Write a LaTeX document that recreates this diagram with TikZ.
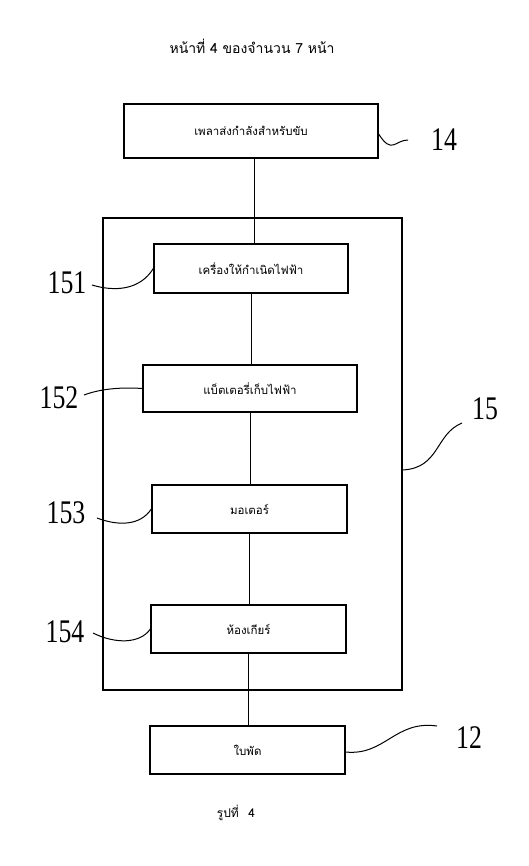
\documentclass[tikz,border=0pt]{standalone}
\usepackage{fontspec}
\newfontfamily\thai[Script=Thai]{Loma}
\newfontfamily\numfont{Liberation Serif}
\begin{document}
\begin{tikzpicture}[x=1pt,y=-1pt,
  box/.style={draw,line width=1.3pt,inner sep=0pt,font=\thai\fontsize{11.5}{13}\selectfont},
  conn/.style={line width=1pt},
  lead/.style={line width=1pt},
  num/.style={inner sep=0pt,font=\numfont\fontsize{33}{35}\selectfont,xscale=0.78}]
\useasboundingbox (0,0) rectangle (528,866);
\node[inner sep=0pt,font=\thai\fontsize{14}{16}\selectfont] (hdr) at (252,46) {หน้าที่ 4 ของจำนวน 7 หน้า};
\node[box,minimum width=299pt,minimum height=472pt] (b15) at (252.5,454) {};
\node[box,minimum width=254pt,minimum height=54pt] (b14) at (251,131) {เพลาส่งกำลังสำหรับขับ};
\node[box,fill=white,minimum width=194pt,minimum height=49pt] (b151) at (251,268.5) {เครื่องให้กำเนิดไฟฟ้า};
\node[box,fill=white,minimum width=214pt,minimum height=47pt] (b152) at (250,388.5) {แบ็ตเตอรี่เก็บไฟฟ้า};
\node[box,fill=white,minimum width=195pt,minimum height=48pt] (b153) at (249.5,509) {มอเตอร์};
\node[box,fill=white,minimum width=195pt,minimum height=48pt] (b154) at (248.5,629) {ห้องเกียร์};
\node[box,minimum width=195pt,minimum height=48pt] (b12) at (247.5,750) {ใบพัด};
\draw[conn] (b14.south) ++(3,0) coordinate (c1) -- (c1 |- b151.north);
\draw[conn] (b151.south) -- (b151.south |- b152.north);
\draw[conn] (b152.south) -- (b152.south |- b153.north);
\draw[conn] (b153.south) -- (b153.south |- b154.north);
\draw[conn] (b154.south) -- (b154.south |- b12.north);
% labels
\node[num] (l14) at (444,140) {14};
\node[num] (l151) at (67,283) {151};
\node[num] (l152) at (59,398) {152};
\node[num] (l153) at (66,513) {153};
\node[num] (l154) at (65,632) {154};
\node[num] (l15) at (485,409) {15};
\node[num] (l12) at (469,738) {12};
\coordinate (e14) at (408,140);
\draw[lead] (b14.east) ++(0,3) coordinate (s14) .. controls (392,155) and (395,140) .. (e14);
\draw[lead] (92,285) .. controls (115,292) and (140,290) .. (b151.west);
\draw[lead] (84,395) .. controls (100,389) and (120,387) .. (b152.west);
\draw[lead] (97,518) .. controls (118,526) and (140,526) .. (b153.west);
\draw[lead] (93,633) .. controls (115,644) and (140,644) .. (b154.west);
\coordinate (e15) at (462,423);
\draw[lead] (b15.east) ++(0,16) coordinate (s15) .. controls (440,468) and (435,434) .. (e15);
\coordinate (e12) at (437,726);
\draw[lead] (b12.east) ++(0,2) coordinate (s12) .. controls (385,756) and (395,720) .. (e12);
\node[inner sep=0pt,font=\thai\fontsize{12}{14}\selectfont] (cap) at (236,813) {รูปที่\hspace{0.8em}4};
\end{tikzpicture}
\end{document}
